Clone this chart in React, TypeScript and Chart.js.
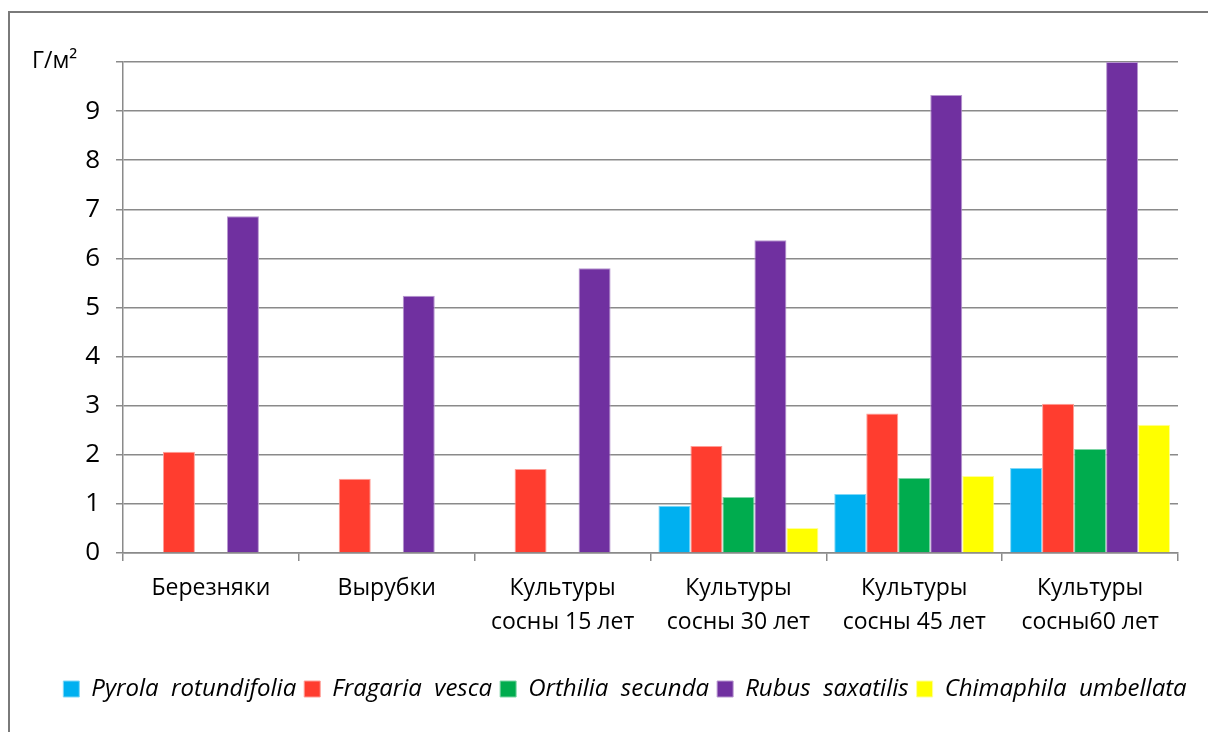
import React, { useEffect, useRef } from "react";
import { Chart, registerables } from "chart.js";

Chart.register(...registerables);

const categories: string[][] = [
  ["Березняки"],
  ["Вырубки"],
  ["Культуры", "сосны 15 лет"],
  ["Культуры", "сосны 30 лет"],
  ["Культуры", "сосны 45 лет"],
  ["Культуры", "сосны60 лет"],
];

const pyrola: (number | null)[] = [null, null, null, 0.96, 1.2, 1.73];
const fragaria: (number | null)[] = [2.06, 1.51, 1.71, 2.18, 2.84, 3.04];
const orthilia: (number | null)[] = [null, null, null, 1.14, 1.53, 2.12];
const rubus: (number | null)[] = [6.86, 5.24, 5.8, 6.37, 9.33, 10.0];
const chimaphila: (number | null)[] = [null, null, null, 0.51, 1.57, 2.61];

const seriesNames = [
  "Pyrola  rotundifolia",
  "Fragaria  vesca",
  "Orthilia  secunda",
  "Rubus  saxatilis",
  "Chimaphila  umbellata",
];
const seriesColors = ["#00B0F0", "#FF3D2F", "#00AC4E", "#7030A0", "#FFFF00"];
const seriesBorders = ["#7FD7F7", "#FF9E97", "#7FD5A6", "#B797CF", "#FFFF99"];

const yUnit = "Г/м²";
const FONT = "'Open Sans', sans-serif";

const framePlugin = {
  id: "frame",
  beforeDraw(chart: any) {
    const ctx = chart.ctx;
    ctx.save();
    ctx.strokeStyle = "#7a7a7a";
    ctx.lineWidth = 2;
    ctx.beginPath();
    ctx.moveTo(9, chart.height + 5);
    ctx.lineTo(9, 12);
    ctx.lineTo(chart.width + 5, 12);
    ctx.stroke();
    ctx.restore();
  },
  afterDraw(chart: any) {
    const ctx = chart.ctx;
    const area = chart.chartArea;
    ctx.save();
    ctx.fillStyle = "#000";
    ctx.font = `23px ${FONT}`;
    ctx.textBaseline = "alphabetic";
    ctx.textAlign = "left";
    ctx.fillText(yUnit, 32, area.top + 6);
    ctx.restore();
  },
};

export default function App() {
  const ref = useRef<HTMLCanvasElement | null>(null);
  useEffect(() => {
    document.body.style.margin = "0";
    const data = [pyrola, fragaria, orthilia, rubus, chimaphila];
    const chart = new Chart(ref.current as HTMLCanvasElement, {
      type: "bar",
      data: {
        labels: categories,
        datasets: seriesNames.map((name, i) => ({
          label: name,
          data: data[i],
          backgroundColor: seriesColors[i],
          borderColor: seriesBorders[i],
          borderWidth: 1,
          categoryPercentage: 0.91,
          barPercentage: 1.0,
          yAxisID: "y",
        })),
      },
      options: {
        responsive: false,
        animation: false,
        layout: { padding: { top: 62, right: 0, left: 42, bottom: 21 } },
        plugins: {
          legend: {
            position: "bottom",
            labels: {
              boxWidth: 16,
              boxHeight: 16,
              padding: 8,
              color: "#000",
              font: { family: FONT, size: 24, style: "italic" },
            },
          },
          tooltip: { enabled: false },
        },
        scales: {
          x: {
            grid: {
              offset: true,
              drawOnChartArea: false,
              drawTicks: true,
              tickLength: 8,
              color: "#8a8a8a",
              lineWidth: 1.5,
            },
            border: { color: "#8a8a8a", width: 1.5 },
            ticks: {
              color: "#000",
              padding: 11,
              maxRotation: 0,
              autoSkip: false,
              font: { family: FONT, size: 23, lineHeight: 1.45 },
            },
            afterFit: (s: any) => {
              s.height = 116;
            },
          },
          y: {
            min: 0,
            max: 10,
            grid: {
              color: "#8a8a8a",
              lineWidth: 1.5,
              tickLength: 7,
            },
            border: { color: "#8a8a8a", width: 1.5 },
            ticks: {
              stepSize: 1,
              color: "#000",
              padding: 16,
              font: { family: FONT, size: 26 },
              callback: (v: any) => (v === 10 ? "" : String(v)),
            },
            afterFit: (s: any) => {
              s.width = 81;
            },
          },
          yR: {
            position: "right",
            display: true,
            grid: { display: false },
            border: { display: false },
            ticks: { display: false },
            afterFit: (s: any) => {
              s.width = 30;
            },
          },
        },
      },
      plugins: [framePlugin],
    });
    return () => chart.destroy();
  }, []);
  return (
    <div style={{ width: 1208, height: 732 }}>
      <canvas ref={ref} width={1208} height={732} />
    </div>
  );
}
